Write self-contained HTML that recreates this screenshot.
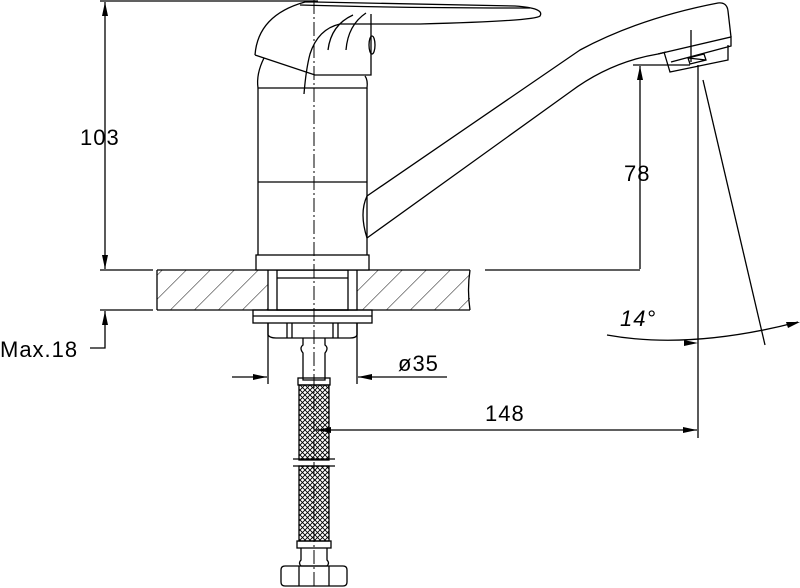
<!DOCTYPE html>
<html><head><meta charset="utf-8"><style>
html,body{margin:0;padding:0;background:#fff}
svg{display:block}
text{font-family:"Liberation Sans",sans-serif;font-size:22px;letter-spacing:1px;fill:#000;stroke:none}
</style></head><body>
<svg width="800" height="588" viewBox="0 0 800 588" xmlns="http://www.w3.org/2000/svg" fill="none" stroke="#000" stroke-width="1.3">
<defs>
<pattern id="hatch" patternUnits="userSpaceOnUse" width="24" height="40" patternTransform="skewX(-45)">
<line x1="0" y1="0" x2="0" y2="40" stroke="#000" stroke-width="1.3"/>
</pattern>
<pattern id="braid" patternUnits="userSpaceOnUse" width="5" height="5">
<path d="M0 0L5 5M5 0L0 5" stroke="#000" stroke-width="0.9"/>
</pattern>
</defs>

<rect x="157" y="270" width="111" height="40" fill="url(#hatch)" stroke="none"/>
<rect x="357" y="270" width="113" height="40" fill="url(#hatch)" stroke="none"/>
<path d="M157 270H470M157 310H470M157 270V310M470 270q-3 20 0 40"/>
<rect x="268" y="270" width="89" height="40" fill="#fff"/>
<rect x="277" y="270" width="71" height="40"/>
<line x1="277" y1="278" x2="348" y2="278"/>
<line x1="485" y1="270" x2="640" y2="270"/>

<path d="M258 88V256M367 88V256M258 182H367"/>
<rect x="256" y="255" width="113" height="15" fill="#fff"/>
<path d="M258 88q-2 -14 6 -30M258 88H367q1 -8 -2 -12"/>
<path d="M255 55q3-40 50-53h10q90 2 200 4q30 2 25 10q-5 5 -120 8h-80q-22 5 -30 30q-4 15 -6 40"/>
<path d="M255 55l60 20h56V14"/>
<path d="M328 50q3-25 25-35M346 50q2-25 20-37"/>
<ellipse cx="372" cy="45" rx="3" ry="9"/>
<path d="M300 5q100 3 230 3"/>
<path d="M367 196L580 50Q640 18 718 3q9 -1 10 8l3 26"/>
<path d="M367 238q-8 -25 0 -42"/>
<path d="M367 238L570 92q40 -30 88 -38l8 -2"/>
<path d="M658 54l73 -17v9l-60 16"/>
<path d="M664 52l6 20l58 -12v-15"/>
<path d="M688 58l16 -4l2 6l-16 4z M688 58l18 2"/>
<line x1="691" y1="30" x2="691" y2="62"/>

<rect x="253" y="310" width="119" height="13"/>
<line x1="253" y1="316" x2="372" y2="316"/>
<path d="M268 323V335q2 3 8 3H350q6 0 7 -3V323"/>
<path d="M287 323v15M292 323v15M333 323v15M338 323v15"/>
<path d="M303 338v7q-4 3 0 8v27h22v-27q4-5 0-8v-7"/>
<rect x="298" y="378" width="32" height="7"/>
<rect x="299" y="385" width="30" height="75" fill="url(#braid)"/>
<rect x="299" y="466" width="30" height="75" fill="url(#braid)"/>
<path d="M293 459H335M293 466H335"/>
<rect x="297" y="541" width="34" height="7"/>
<path d="M301 548v12q-3 3 0 6h26q3-3 0-6v-12"/>
<path d="M285 566h58q4 0 4 4v12q0 4 -4 4h-58q-4 0 -4 -4v-12q0 -4 4 -4M299 566v20M329 566v20"/>

<line x1="314" y1="0" x2="314" y2="588" stroke-dasharray="14,3,2,3" stroke-width="1"/>

<g fill="#000" stroke="none">
<path d="M105 2l-3 14h6z"/>
<path d="M105 269l-3 -14h6z"/>
<path d="M105 311l-3 14h6z"/>
<path d="M640 66l-3 14h6z"/>
<path d="M317 430l14 -3v6z"/>
<path d="M697 430l-14 -3v6z"/>
<path d="M267 377l-14 -3v6z"/>
<path d="M358 377l14 -3v6z"/>
<path d="M698 343l-14 -3v6z"/>
<path d="M800 322l-14 0l2 6z"/>
</g>

<line x1="100" y1="1" x2="318" y2="1"/>
<line x1="105" y1="2" x2="105" y2="269"/>
<line x1="100" y1="270" x2="153" y2="270"/>
<line x1="100" y1="310" x2="153" y2="310"/>
<text x="80" y="145">103</text>
<path d="M90 348H105V311"/>
<text x="0" y="357">Max.18</text>

<line x1="633" y1="65" x2="690" y2="65"/>
<line x1="640" y1="269" x2="640" y2="66"/>
<text x="624" y="181">78</text>

<line x1="698" y1="65" x2="698" y2="438"/>
<line x1="703" y1="80" x2="765" y2="345"/>
<path d="M607 335Q690 350 798 322"/>
<text x="620" y="326" font-style="italic">14°</text>

<line x1="316" y1="430" x2="697" y2="430"/>
<text x="485" y="421">148</text>

<line x1="268" y1="323" x2="268" y2="384"/>
<line x1="357" y1="323" x2="357" y2="384"/>
<line x1="232" y1="377" x2="267" y2="377"/>
<line x1="447" y1="377" x2="358" y2="377"/>
<text x="398" y="371">ø35</text>
</svg>
</body></html>
